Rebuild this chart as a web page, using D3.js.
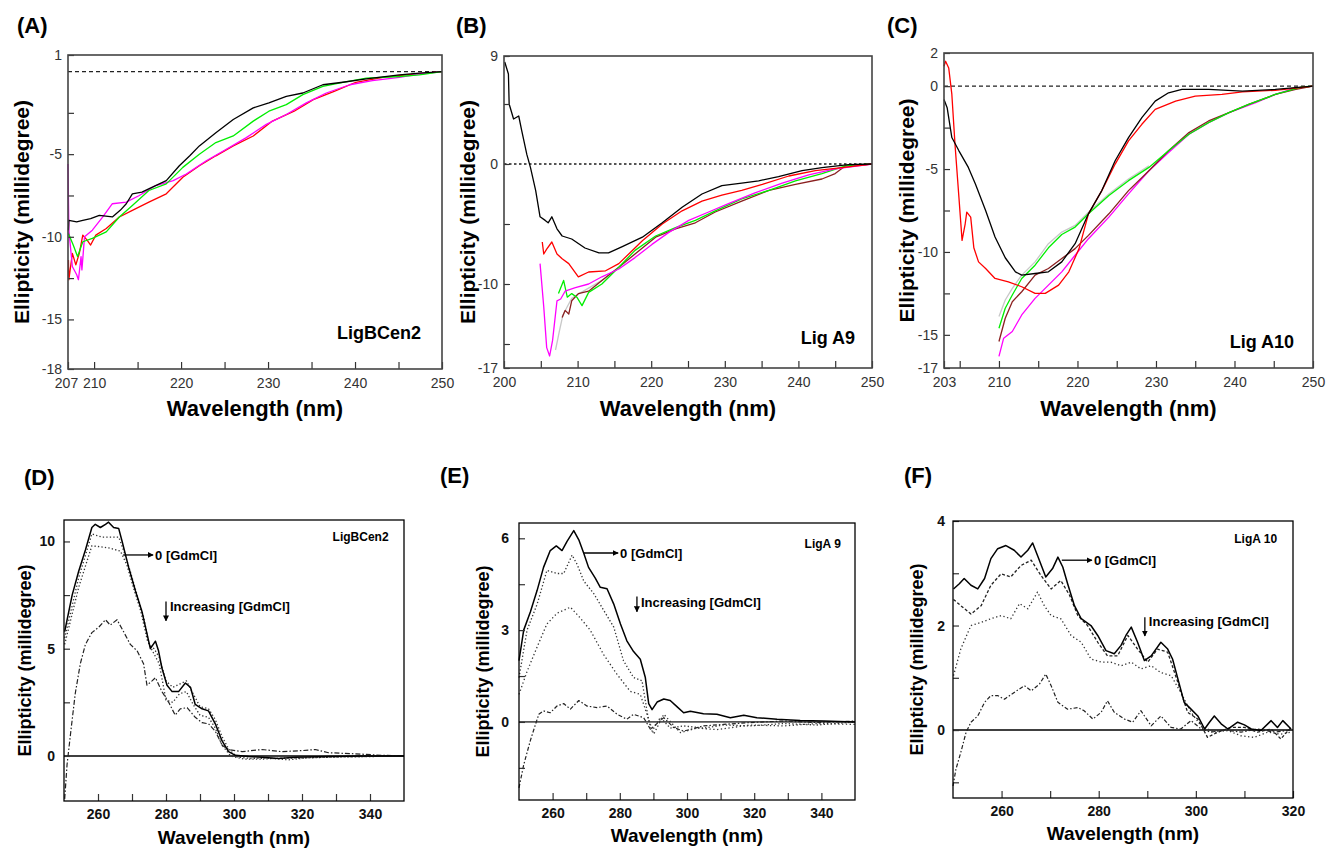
<!DOCTYPE html>
<html>
<head>
<meta charset="utf-8">
<script src="https://cdn.jsdelivr.net/npm/d3@7"></script>
<style>
  body { margin: 0; background: #fff; }
  svg { font-family: Arial, 'Liberation Sans', sans-serif; }
</style>
</head>
<body>
<div id="app"></div>
<script>
'use strict'

// ---- (A) LigBCen2, far-UV ----
const aBlack = [[207.05,-9.6],[207.1,-9.0],[208.0,-9.1],[208.7,-9.0],[209.6,-8.9],[210.6,-8.7],[212.1,-8.8],[213.0,-8.4],[213.7,-8.0],[214.4,-7.4],[215.5,-7.3],[216.7,-7.0],[218.3,-6.6],[219.8,-5.7],[221.0,-5.1],[222.1,-4.5],[224.0,-3.7],[226.0,-2.9],[228.3,-2.2],[230.1,-1.9],[232.1,-1.5],[234.0,-1.3],[236.3,-0.8],[238.6,-0.65],[241.3,-0.45],[245.1,-0.2],[247.4,-0.1],[250,0.0]]
const aGreen = [[207.05,-9.8],[207.6,-10.5],[208.1,-11.2],[208.7,-10.3],[209.8,-10.1],[211.4,-9.7],[212.9,-8.8],[214.4,-8.1],[216.3,-7.2],[218.3,-6.8],[220.2,-5.8],[222.1,-5.0],[224.0,-4.3],[226.0,-3.9],[228.3,-3.0],[230.1,-2.4],[232.1,-2.0],[234.0,-1.4],[236.3,-0.9],[238.6,-0.65],[241.3,-0.4],[245.1,-0.3],[247.4,-0.2],[250,0.0]]
const aMagenta = [[207.0,-5.6],[207.1,-9.6],[207.5,-11.8],[208.0,-12.3],[208.2,-12.6],[208.5,-11.2],[208.6,-12.0],[208.9,-10.0],[209.8,-9.6],[211.0,-8.8],[212.1,-8.0],[213.7,-7.9],[215.2,-7.5],[217.1,-6.9],[219.1,-6.6],[220.6,-6.2],[222.9,-5.4],[225.2,-4.7],[227.5,-4.0],[229.8,-3.2],[232.1,-2.6],[234.4,-1.9],[236.7,-1.3],[239.4,-0.8],[242.0,-0.55],[245.1,-0.35],[247.4,-0.15],[250,0.0]]
const aRed = [[207.05,-11.4],[207.1,-12.6],[207.5,-11.0],[207.9,-11.7],[208.3,-11.0],[208.7,-9.9],[209.2,-10.2],[209.6,-10.5],[210.2,-9.9],[211.4,-9.5],[212.9,-8.8],[214.4,-8.4],[216.3,-7.9],[218.3,-7.4],[220.2,-6.4],[222.1,-5.7],[224.0,-5.1],[226.0,-4.5],[228.3,-3.9],[230.5,-3.0],[233.0,-2.4],[235.2,-1.7],[237.6,-1.2],[240.1,-0.65],[243.2,-0.35],[245.9,-0.2],[250,0.0]]

// ---- (B) Lig A9, far-UV ----
const bBlack = [[200.1,8.5],[200.6,7.5],[200.7,5.0],[201.3,3.75],[202.0,4.0],[202.4,2.8],[203.1,0.8],[203.6,-0.3],[204.3,-2.2],[204.9,-4.4],[205.6,-4.7],[206.0,-4.9],[206.5,-4.4],[207.2,-5.4],[207.9,-6.0],[209.2,-6.25],[211.0,-7.0],[212.9,-7.4],[214.2,-7.4],[216.0,-6.9],[218.8,-6.1],[221.5,-4.9],[224.2,-3.6],[226.9,-2.5],[229.6,-1.8],[232.3,-1.6],[234.6,-1.4],[237.3,-1.05],[240.5,-0.55],[243.2,-0.3],[246.8,-0.05],[250,0.0]]
const bRed = [[205.2,-6.5],[205.4,-7.5],[205.8,-7.1],[206.5,-6.5],[207.2,-7.5],[207.9,-7.9],[208.8,-8.3],[210.1,-9.4],[211.5,-9.0],[213.8,-8.9],[215.6,-8.3],[218.8,-6.4],[221.5,-5.0],[224.2,-3.9],[226.9,-3.1],[229.6,-2.6],[232.3,-2.2],[235.1,-1.7],[238.7,-1.0],[242.3,-0.55],[245.9,-0.3],[250,0.0]]
const bMagenta = [[204.9,-8.3],[205.4,-11.9],[205.8,-15.3],[206.2,-16.0],[206.6,-14.7],[207.2,-11.4],[207.7,-11.25],[208.3,-10.6],[209.7,-10.3],[211.5,-10.0],[213.3,-9.4],[215.6,-8.75],[217.8,-7.8],[220.1,-6.7],[222.4,-5.7],[225.1,-4.7],[227.8,-4.0],[230.5,-3.3],[234.1,-2.4],[237.8,-1.6],[241.4,-0.9],[245.0,-0.4],[250,0.0]]
const bGray = [[207.0,-15.5],[207.5,-14.0],[208.0,-12.6],[208.5,-12.0],[209.2,-11.2],[210.5,-10.7],[213.3,-9.7],[215.6,-8.6]]
const bGreen = [[207.4,-10.8],[208.1,-9.7],[208.6,-11.1],[209.2,-10.8],[209.9,-11.1],[210.6,-11.8],[211.5,-10.7],[213.3,-10.0],[215.6,-8.6],[217.8,-7.2],[220.6,-6.0],[223.3,-5.3],[226.0,-4.7],[228.7,-3.9],[232.3,-2.9],[236.0,-2.2],[239.6,-1.4],[243.2,-0.8],[246.4,-0.15],[250,0.0]]
const bBrown = [[207.9,-12.8],[208.3,-12.2],[208.8,-12.5],[209.2,-11.4],[210.1,-10.8],[211.5,-10.6],[213.3,-9.7],[215.6,-8.6],[217.8,-7.5],[220.6,-6.1],[223.3,-5.4],[226.0,-4.9],[228.7,-4.0],[232.3,-3.1],[236.0,-2.2],[239.6,-1.7],[243.2,-1.25],[245.0,-0.8],[246.4,-0.15],[250,0.0]]

// ---- (C) Lig A10, far-UV ----
const cBlack = [[203.0,-0.8],[203.4,-1.3],[204.0,-3.1],[204.9,-3.9],[206.1,-4.9],[207.0,-5.9],[208.3,-7.5],[209.5,-9.1],[210.8,-10.35],[212.1,-11.2],[212.9,-11.4],[214.6,-11.3],[216.3,-11.2],[218.0,-10.6],[219.7,-9.5],[221.4,-7.7],[223.1,-6.3],[224.8,-4.5],[226.5,-3.1],[228.2,-1.9],[229.9,-0.9],[231.6,-0.4],[233.3,-0.2],[236.7,-0.2],[241.0,-0.3],[245.2,-0.2],[250,0.0]]
const cRed = [[203.0,1.2],[203.2,1.5],[203.6,1.1],[204.0,-0.5],[204.4,-3.5],[204.9,-6.7],[205.3,-9.3],[205.7,-8.3],[205.9,-7.6],[206.4,-7.9],[206.8,-9.75],[207.4,-10.6],[208.3,-11.0],[209.5,-11.6],[211.2,-11.8],[212.9,-12.1],[214.6,-12.5],[215.9,-12.5],[217.6,-12.0],[218.9,-11.2],[220.2,-9.8],[221.4,-7.7],[223.1,-6.3],[224.8,-4.7],[226.5,-3.3],[228.2,-2.3],[229.9,-1.4],[232.5,-0.9],[235.0,-0.6],[238.4,-0.5],[241.0,-0.35],[245.2,-0.25],[250,0.0]]
const cGray = [[210.0,-13.9],[210.8,-12.9],[211.7,-12.2],[212.9,-11.4],[214.6,-10.6],[216.3,-9.5],[218.0,-8.8],[219.7,-8.4],[221.4,-7.6],[224.0,-6.5],[226.5,-5.6],[229.1,-4.8]]
const cGreen = [[210.0,-14.6],[210.8,-13.4],[211.7,-12.6],[212.9,-11.6],[214.6,-10.8],[216.3,-9.75],[218.0,-8.95],[219.7,-8.5],[221.4,-7.7],[224.0,-6.6],[226.5,-5.7],[229.1,-4.9],[231.6,-3.9],[234.2,-2.9],[236.7,-2.2],[239.3,-1.6],[241.8,-1.1],[245.2,-0.5],[248.6,-0.05],[250,0.0]]
const cBrown = [[210.0,-15.4],[210.8,-14.0],[211.7,-13.0],[212.9,-12.4],[214.6,-11.4],[216.3,-11.0],[218.0,-10.4],[219.7,-9.8],[221.4,-9.0],[224.0,-7.7],[226.5,-6.3],[229.1,-5.1],[231.6,-3.9],[234.2,-2.8],[236.7,-2.1],[239.3,-1.6],[241.8,-1.1],[245.2,-0.5],[247.8,-0.2],[250,0.0]]
const cMagenta = [[210.0,-16.3],[210.6,-15.2],[211.7,-14.8],[212.9,-13.8],[214.6,-12.8],[216.3,-12.0],[218.0,-11.2],[219.7,-10.2],[221.4,-9.2],[224.0,-7.9],[226.5,-6.5],[229.1,-5.1],[231.6,-4.0],[234.2,-2.9],[236.7,-2.2],[239.3,-1.6],[242.7,-1.0],[245.2,-0.5],[247.8,-0.1],[250,0.0]]

// ---- (D) LigBCen2, near-UV ----
const dSolid = [[250.2,5.8],[252.4,7.5],[254.3,8.6],[256.3,9.6],[258.2,10.65],[259.2,10.8],[260.7,10.65],[262.2,10.8],[263.1,10.9],[264.6,10.65],[266.1,10.6],[267.1,10.0],[269.0,8.8],[271.0,7.7],[272.9,6.75],[274.4,5.7],[275.4,5.0],[276.9,5.35],[277.8,4.9],[278.8,4.1],[280.3,3.3],[281.8,3.0],[283.7,3.0],[285.7,3.4],[287.2,3.2],[288.6,2.4],[290.6,2.2],[292.5,2.1],[294.5,1.5],[296.5,0.7],[298.4,0.2],[300.4,0.03],[304.3,-0.03],[308.2,-0.06],[313.1,-0.12],[318.0,-0.06],[327.8,-0.03],[337.6,0.0],[350,0.0]]
const dDot1 = [[250.2,5.5],[254.3,8.3],[258.2,10.35],[261.2,10.2],[266.1,10.2],[267.6,9.55],[269.5,8.6],[271.5,7.5],[273.4,6.5],[275.0,5.2],[276.5,5.0],[278.0,4.6],[280.0,3.5],[282.0,3.2],[284.0,3.35],[286.0,3.5],[288.0,2.9],[290.0,2.3],[292.5,2.2],[294.5,1.7],[296.5,0.9],[298.5,0.3],[301.0,-0.05],[305.0,-0.12],[310.0,-0.1],[316.0,-0.18],[322.0,-0.08],[330.0,-0.05],[340.0,-0.03],[350,0.02]]
const dDot2 = [[250.2,5.2],[254.3,7.85],[258.2,9.8],[263.1,9.7],[266.6,9.55],[268.5,8.9],[270.5,7.8],[272.5,6.8],[274.5,5.4],[276.0,4.9],[278.0,4.3],[280.0,2.6],[282.0,2.5],[284.0,2.9],[286.0,3.0],[288.0,2.4],[290.0,1.9],[292.5,1.8],[294.5,1.3],[296.5,0.5],[299.0,0.0],[303.0,-0.15],[308.0,-0.15],[314.0,-0.1],[320.0,-0.1],[330.0,-0.05],[340.0,-0.02],[350,0.0]]
const dDashDot = [[250.2,-2.0],[250.9,-0.4],[251.9,1.0],[253.3,2.9],[254.8,4.3],[256.3,5.2],[258.2,5.75],[260.2,6.0],[262.2,6.35],[263.6,6.1],[265.6,6.35],[267.5,5.8],[269.5,5.2],[271.5,4.9],[273.4,4.3],[274.4,3.3],[275.9,3.5],[276.9,3.65],[278.8,3.0],[280.8,2.5],[282.7,1.9],[284.2,2.2],[286.2,2.25],[288.6,1.8],[290.6,1.55],[292.5,1.5],[294.5,1.15],[296.5,0.5],[298.4,0.3],[302.4,0.2],[308.2,0.3],[314.1,0.2],[320.0,0.25],[323.9,0.3],[327.8,0.15],[335.7,0.1],[343.5,0.03],[350,0.0]]

// ---- (E) LigA 9, near-UV ----
const eSolid = [[250.0,2.0],[251.4,3.0],[253.4,3.6],[255.4,4.3],[257.3,5.05],[259.3,5.6],[261.1,5.75],[262.8,5.6],[264.3,5.9],[266.3,6.25],[267.8,5.95],[269.3,5.5],[270.7,5.05],[272.7,4.7],[274.2,4.4],[276.2,4.35],[278.2,3.85],[280.2,3.2],[282.1,2.65],[284.1,2.3],[286.1,2.05],[287.6,1.45],[288.6,0.6],[289.6,0.4],[291.1,0.65],[293.1,0.75],[295.0,0.7],[297.0,0.5],[299.0,0.3],[301.0,0.35],[304.9,0.27],[308.9,0.25],[312.9,0.14],[316.9,0.22],[320.8,0.14],[326.8,0.09],[333.7,0.05],[340.7,0.03],[350,0.0]]
const eDot1 = [[250.0,1.45],[252.4,3.0],[255.4,3.85],[258.3,4.95],[261.3,4.85],[263.3,4.85],[265.8,5.45],[267.3,5.15],[269.3,4.6],[272.2,4.2],[275.2,3.65],[278.2,3.1],[281.1,2.0],[284.1,1.45],[286.6,1.35],[288.6,0.03],[289.6,-0.3],[292.1,0.15],[295.0,-0.2],[299.0,-0.13],[304.9,-0.2],[310.9,-0.1],[318.8,-0.13],[328.7,-0.05],[338.7,-0.1],[350,0.0]]
const eDot2 = [[250.0,0.9],[252.4,1.65],[255.4,2.45],[258.3,3.2],[261.3,3.55],[265.3,3.75],[268.2,3.4],[271.2,3.0],[275.2,2.2],[279.2,1.55],[283.1,1.0],[286.1,0.9],[288.1,0.25],[290.1,-0.4],[293.1,0.25],[298.0,-0.35],[303.0,-0.2],[308.9,-0.25],[318.8,-0.1],[328.7,-0.13],[338.7,-0.05],[350,-0.08]]
const eDashDot = [[250.0,-2.15],[251.4,-1.4],[253.4,-0.6],[254.9,-0.08],[255.9,0.25],[257.3,0.36],[259.3,0.3],[261.3,0.52],[263.3,0.6],[265.3,0.42],[267.8,0.7],[270.2,0.52],[273.2,0.47],[276.2,0.52],[279.2,0.25],[282.1,0.09],[284.1,0.25],[287.1,0.14],[289.1,-0.24],[293.1,0.14],[296.0,-0.18],[299.0,-0.3],[304.9,-0.13],[310.9,-0.08],[318.8,-0.02],[328.7,0.03],[338.7,-0.02],[350,0.03]]

// ---- (F) LigA 10, near-UV ----
const fSolid = [[250.1,2.7],[251.3,2.8],[252.3,2.9],[253.7,2.77],[255.1,2.7],[256.5,2.9],[257.8,3.28],[259.2,3.47],[260.9,3.53],[262.6,3.44],[264.0,3.31],[265.4,3.44],[266.4,3.58],[267.4,3.34],[269.1,2.93],[270.5,3.09],[271.6,3.31],[272.6,3.12],[273.6,2.8],[275.0,2.38],[276.4,2.13],[278.4,2.0],[279.8,1.81],[281.5,1.52],[283.2,1.46],[284.6,1.62],[285.6,1.81],[286.7,1.97],[288.0,1.68],[289.4,1.33],[290.8,1.42],[292.8,1.68],[294.2,1.55],[295.2,1.36],[296.3,0.98],[297.6,0.53],[299.0,0.4],[300.4,0.27],[301.8,0.02],[302.8,0.15],[303.8,0.27],[305.2,0.12],[306.6,0.02],[308.6,0.15],[310.0,0.1],[311.4,0.02],[313.4,-0.01],[315.5,0.18],[316.8,0.05],[317.9,0.18],[319.6,0.02]]
const fDash = [[250.1,2.5],[251.6,2.38],[253.7,2.22],[255.8,2.38],[257.8,2.77],[259.9,2.99],[261.9,2.93],[264.0,3.15],[266.1,3.25],[268.1,2.96],[270.2,2.7],[272.2,2.86],[274.0,2.58],[275.7,2.19],[277.7,2.0],[279.8,1.68],[281.8,1.42],[283.9,1.42],[286.0,1.81],[288.0,1.55],[290.1,1.3],[292.1,1.55],[294.2,1.49],[296.3,0.91],[298.3,0.34],[300.4,0.21],[302.4,-0.14],[304.5,-0.04],[307.2,0.05],[310.0,0.05],[312.7,-0.04],[315.5,0.02],[317.5,-0.17],[319.6,0.05]]
const fDot = [[250.1,1.04],[251.6,1.55],[253.7,2.0],[255.8,2.06],[257.8,2.13],[259.9,2.19],[261.9,2.13],[263.7,2.42],[265.4,2.32],[267.4,2.64],[268.8,2.38],[270.2,2.19],[272.2,2.13],[274.3,1.81],[276.4,1.68],[278.4,1.36],[280.5,1.3],[282.5,1.3],[284.6,1.23],[286.7,1.3],[288.7,1.17],[290.8,1.23],[292.8,1.1],[294.9,1.04],[296.9,0.72],[299.0,0.34],[301.1,0.08],[303.8,-0.04],[306.6,-0.01],[309.3,-0.11],[312.0,-0.14],[314.8,-0.04],[317.5,-0.08],[319.6,-0.04]]
const fDashDot = [[250.0,-1.07],[250.6,-0.75],[251.6,-0.43],[252.7,-0.04],[253.7,0.15],[255.1,0.27],[256.5,0.53],[257.8,0.66],[259.2,0.66],[260.6,0.59],[262.6,0.72],[264.7,0.85],[266.1,0.75],[267.8,0.88],[269.1,1.07],[270.2,0.85],[271.6,0.53],[273.6,0.4],[275.7,0.43],[277.0,0.37],[278.8,0.21],[280.5,0.34],[281.8,0.56],[283.2,0.34],[285.3,0.21],[287.0,0.15],[288.7,0.37],[290.8,0.08],[292.8,0.27],[294.9,0.05],[296.9,0.02],[299.0,0.18],[301.1,0.02],[303.1,-0.04],[305.9,0.0],[309.3,-0.04],[312.7,0.02],[316.2,-0.04],[319.6,0.0]]

// tick values and labels
const aXTicks = [207, 210, 215, 220, 225, 230, 235, 240, 245, 250]
const aXLabels = [207, 210, 220, 230, 240, 250]
const aYTicks = [1, -2.5, -5, -7.5, -10, -12.5, -15, -18]
const aYLabels = [1, -5, -10, -15, -18]
const bXTicks = [200, 205, 210, 215, 220, 225, 230, 235, 240, 245, 250]
const bXLabels = [200, 210, 220, 230, 240, 250]
const bYTicks = [9, 5, 0, -5, -10, -15, -17]
const bYLabels = [9, 0, -10, -17]
const cXTicks = [203, 205, 210, 215, 220, 225, 230, 235, 240, 245, 250]
const cXLabels = [203, 210, 220, 230, 240, 250]
const cYTicks = [2, 0, -2.5, -5, -7.5, -10, -12.5, -15, -17]
const cYLabels = [2, 0, -5, -10, -15, -17]
const nearXTicks = [260, 270, 280, 290, 300, 310, 320, 330, 340]
const nearXLabels = [260, 280, 300, 320, 340]
const fXTicks = [260, 270, 280, 290, 300, 310, 320]
const fXLabels = [260, 280, 300, 320]
const dYTicks = [0, 2.5, 5, 7.5, 10]
const dYLabels = [0, 5, 10]
const eYTicks = [-1.5, 0, 1.5, 3, 4.5, 6]
const eYLabels = [0, 3, 6]
const fYTicks = [-1, 0, 1, 2, 3, 4]
const fYLabels = [0, 2, 4]

const svg = d3.select('#app').append('svg')
	.attr('width', 1334)
	.attr('height', 849)

svg.append('defs').append('marker')
	.attr('id', 'arrow')
	.attr('viewBox', '0 0 10 10')
	.attr('refX', 9).attr('refY', 5)
	.attr('markerWidth', 6).attr('markerHeight', 6)
	.attr('markerUnits', 'userSpaceOnUse')
	.attr('orient', 'auto')
	.append('path')
	.attr('d', 'M0,0 L10,5 L0,10 z')
	.attr('fill', '#000')

const farStyle = { tickColor: '#333', tickWeight: 'normal', tickSize: 14, titleSize: 22, yTitleSize: 21 }
const nearStyle = { tickColor: '#111', tickWeight: 'bold', tickSize: 14, titleSize: 19, yTitleSize: 18 }

const drawPanel = p => {
	const g = svg.append('g')
	const x = d3.scaleLinear().domain(p.xDomain).range([p.box.left, p.box.right])
	const y = d3.scaleLinear().domain(p.yDomain).range([p.box.bottom, p.box.top])
	const st = p.style

	// zero line
	g.append('line')
		.attr('x1', x(p.xDomain[0])).attr('x2', x(p.xDomain[1]))
		.attr('y1', y(0)).attr('y2', y(0))
		.attr('stroke', p.zero.color)
		.attr('stroke-width', p.zero.width)
		.attr('stroke-dasharray', p.zero.dash)

	// series
	const line = d3.line().x(d => x(d[0])).y(d => y(d[1]))
	p.series.forEach(s => {
		g.append('path')
			.datum(s.data)
			.attr('d', line)
			.attr('fill', 'none')
			.attr('stroke', s.color)
			.attr('stroke-width', s.width || 1.3)
			.attr('stroke-dasharray', s.dash || null)
			.attr('stroke-linejoin', 'round')
	})

	// axes, ticks pointing inward
	const xAxis = g.append('g')
		.attr('transform', `translate(0, ${p.box.bottom})`)
		.call(d3.axisBottom(x).tickValues(p.xTicks).tickSize(-7).tickPadding(p.xPad)
			.tickFormat(d => p.xLabels.includes(d) ? d : ''))
	const yAxis = g.append('g')
		.attr('transform', `translate(${p.box.left}, 0)`)
		.call(d3.axisLeft(y).tickValues(p.yTicks).tickSize(-6).tickPadding(p.yPad)
			.tickFormat(d => p.yLabels.includes(d) ? d : ''))
	;[xAxis, yAxis].forEach(a => {
		a.select('.domain').remove()
		a.selectAll('line').attr('stroke', '#333').attr('stroke-width', 1.2)
		a.selectAll('text')
			.attr('fill', st.tickColor)
			.style('font-size', st.tickSize + 'px')
			.style('font-weight', st.tickWeight)
	})
	xAxis.selectAll('text').filter(d => d === p.xDomain[0] && p.xShiftFirst)
		.attr('dx', p.xShiftFirst)

	// frame
	g.append('rect')
		.attr('x', p.box.left).attr('y', p.box.top)
		.attr('width', p.box.right - p.box.left)
		.attr('height', p.box.bottom - p.box.top)
		.attr('fill', 'none')
		.attr('stroke', p.frameColor)
		.attr('stroke-width', p.frameWidth)

	// axis titles
	g.append('text')
		.attr('x', (p.box.left + p.box.right) / 2)
		.attr('y', p.xTitleY)
		.attr('text-anchor', 'middle')
		.style('font-size', st.titleSize + 'px')
		.style('font-weight', 'bold')
		.text('Wavelength (nm)')
	g.append('text')
		.attr('transform', `translate(${p.yTitleX}, ${(p.box.top + p.box.bottom) / 2}) rotate(-90)`)
		.attr('text-anchor', 'middle')
		.attr('dy', '0.35em')
		.style('font-size', st.yTitleSize + 'px')
		.style('font-weight', 'bold')
		.text('Ellipticity (millidegree)')

	// panel letter
	g.append('text')
		.attr('x', p.letterPos[0]).attr('y', p.letterPos[1])
		.style('font-size', '22px')
		.style('font-weight', 'bold')
		.text(p.letter)

	// protein name
	g.append('text')
		.attr('x', p.name.anchor === 'end' ? p.box.right - p.name.dx : x(p.name.x))
		.attr('y', p.name.anchor === 'end' ? p.box.bottom - p.name.dy : y(p.name.y))
		.attr('text-anchor', p.name.anchor || 'start')
		.attr('dy', '0.35em')
		.style('font-size', p.name.size + 'px')
		.style('font-weight', 'bold')
		.text(p.name.text)

	// annotations for GdmCl
	if (p.gdm) {
		const a = p.gdm
		g.append('line')
			.attr('x1', x(a.zeroFrom[0])).attr('y1', y(a.zeroFrom[1]))
			.attr('x2', x(a.zeroTo)).attr('y2', y(a.zeroFrom[1]))
			.attr('stroke', '#000').attr('stroke-width', 1.3)
			.attr('marker-end', 'url(#arrow)')
		g.append('text')
			.attr('x', x(a.zeroTo) + 2).attr('y', y(a.zeroFrom[1]))
			.attr('dy', '0.35em')
			.style('font-size', '13px').style('font-weight', 'bold')
			.text('0 [GdmCl]')
		g.append('line')
			.attr('x1', x(a.incX)).attr('y1', y(a.incY[0]))
			.attr('x2', x(a.incX)).attr('y2', y(a.incY[1]))
			.attr('stroke', '#000').attr('stroke-width', 1.3)
			.attr('marker-end', 'url(#arrow)')
		g.append('text')
			.attr('x', x(a.incX) + 4).attr('y', y(a.incTextY))
			.attr('dy', '0.35em')
			.style('font-size', '13px').style('font-weight', 'bold')
			.text('Increasing [GdmCl]')
	}
}

const farZeroDash = { color: '#222', width: 1.3, dash: '4,3' }
const nearZero = { color: '#000', width: 1.6, dash: null }

drawPanel({
	letter: '(A)', letterPos: [17, 33],
	box: { left: 68, top: 55, right: 442, bottom: 369 },
	xDomain: [207, 250], yDomain: [-18, 1],
	xTicks: aXTicks, xLabels: aXLabels, yTicks: aYTicks, yLabels: aYLabels,
	xPad: 9, yPad: 6, xShiftFirst: -2,
	style: farStyle, frameColor: '#444', frameWidth: 1.6,
	zero: farZeroDash,
	xTitleY: 416, yTitleX: 22,
	name: { text: 'LigBCen2', anchor: 'end', dx: 21, dy: 36, size: 18 },
	series: [
		{ data: aRed, color: '#ff0000' },
		{ data: aMagenta, color: '#ff00ff' },
		{ data: aGreen, color: '#00ee00' },
		{ data: aBlack, color: '#000' }
	]
})

drawPanel({
	letter: '(B)', letterPos: [456, 33],
	box: { left: 504, top: 56, right: 872, bottom: 368 },
	xDomain: [200, 250], yDomain: [-17, 9],
	xTicks: bXTicks, xLabels: bXLabels, yTicks: bYTicks, yLabels: bYLabels,
	xPad: 9, yPad: 6,
	style: farStyle, frameColor: '#444', frameWidth: 1.6,
	zero: { color: '#555', width: 2, dash: '2.5,2.5' },
	xTitleY: 416, yTitleX: 468,
	name: { text: 'Lig A9', anchor: 'end', dx: 17, dy: 30, size: 18 },
	series: [
		{ data: bGray, color: '#c8c8c8' },
		{ data: bBrown, color: '#8b2020' },
		{ data: bGreen, color: '#00ee00' },
		{ data: bMagenta, color: '#ff00ff' },
		{ data: bRed, color: '#ff0000' },
		{ data: bBlack, color: '#000' }
	]
})

drawPanel({
	letter: '(C)', letterPos: [887, 33],
	box: { left: 944, top: 53, right: 1313, bottom: 368 },
	xDomain: [203, 250], yDomain: [-17, 2],
	xTicks: cXTicks, xLabels: cXLabels, yTicks: cYTicks, yLabels: cYLabels,
	xPad: 9, yPad: 6,
	style: farStyle, frameColor: '#444', frameWidth: 1.6,
	zero: farZeroDash,
	xTitleY: 416, yTitleX: 907,
	name: { text: 'Lig A10', anchor: 'end', dx: 19, dy: 26, size: 18 },
	series: [
		{ data: cGray, color: '#c8c8c8' },
		{ data: cMagenta, color: '#ff00ff' },
		{ data: cBrown, color: '#8b2020' },
		{ data: cGreen, color: '#00ee00' },
		{ data: cRed, color: '#ff0000' },
		{ data: cBlack, color: '#000' }
	]
})

drawPanel({
	letter: '(D)', letterPos: [24, 485],
	box: { left: 64, top: 520, right: 404, bottom: 801 },
	xDomain: [250, 350], yDomain: [-2.1, 11],
	xTicks: nearXTicks, xLabels: nearXLabels, yTicks: dYTicks, yLabels: dYLabels,
	xPad: 8, yPad: 9,
	style: nearStyle, frameColor: '#000', frameWidth: 1.3,
	zero: nearZero,
	xTitleY: 844, yTitleX: 25,
	name: { text: 'LigBCen2', x: 329, y: 10.2, size: 12 },
	gdm: { zeroFrom: [267.4, 9.37], zeroTo: 276.2, incX: 280, incY: [7.2, 6.3], incTextY: 6.95 },
	series: [
		{ data: dDashDot, color: '#222', dash: '5,2,1.5,2', width: 1.2 },
		{ data: dDot2, color: '#333', dash: '1.3,2.2', width: 1.3 },
		{ data: dDot1, color: '#333', dash: '1.3,2.2', width: 1.3 },
		{ data: dSolid, color: '#000', width: 1.5 }
	]
})

drawPanel({
	letter: '(E)', letterPos: [440, 483],
	box: { left: 519, top: 523, right: 855, bottom: 800 },
	xDomain: [250, 350], yDomain: [-2.55, 6.5],
	xTicks: nearXTicks, xLabels: nearXLabels, yTicks: eYTicks, yLabels: eYLabels,
	xPad: 8, yPad: 10,
	style: nearStyle, frameColor: '#000', frameWidth: 1.3,
	zero: { color: '#555', width: 1.8, dash: null },
	xTitleY: 842, yTitleX: 483,
	name: { text: 'LigA 9', x: 335, y: 5.82, size: 12 },
	gdm: { zeroFrom: [269.3, 5.52], zeroTo: 279.5, incX: 285.1, incY: [4.1, 3.6], incTextY: 3.92 },
	series: [
		{ data: eDashDot, color: '#222', dash: '4,2,1.5,2', width: 1.2 },
		{ data: eDot2, color: '#333', dash: '1.3,2.5', width: 1.3 },
		{ data: eDot1, color: '#333', dash: '1.3,2.2', width: 1.3 },
		{ data: eSolid, color: '#000', width: 1.5 }
	]
})

drawPanel({
	letter: '(F)', letterPos: [904, 483],
	box: { left: 953, top: 521, right: 1293, bottom: 798 },
	xDomain: [250, 320], yDomain: [-1.3, 4],
	xTicks: fXTicks, xLabels: fXLabels, yTicks: fYTicks, yLabels: fYLabels,
	xPad: 8, yPad: 8,
	style: nearStyle, frameColor: '#000', frameWidth: 1.3,
	zero: nearZero,
	xTitleY: 840, yTitleX: 917,
	name: { text: 'LigA 10', x: 307.9, y: 3.66, size: 12 },
	gdm: { zeroFrom: [272.4, 3.25], zeroTo: 278.6, incX: 289.5, incY: [2.16, 1.8], incTextY: 2.07 },
	series: [
		{ data: fDashDot, color: '#222', dash: '4,2,1.5,2', width: 1.2 },
		{ data: fDot, color: '#333', dash: '1.3,2.5', width: 1.3 },
		{ data: fDash, color: '#222', dash: '3,2', width: 1.3 },
		{ data: fSolid, color: '#000', width: 1.5 }
	]
})
</script>
</body>
</html>
